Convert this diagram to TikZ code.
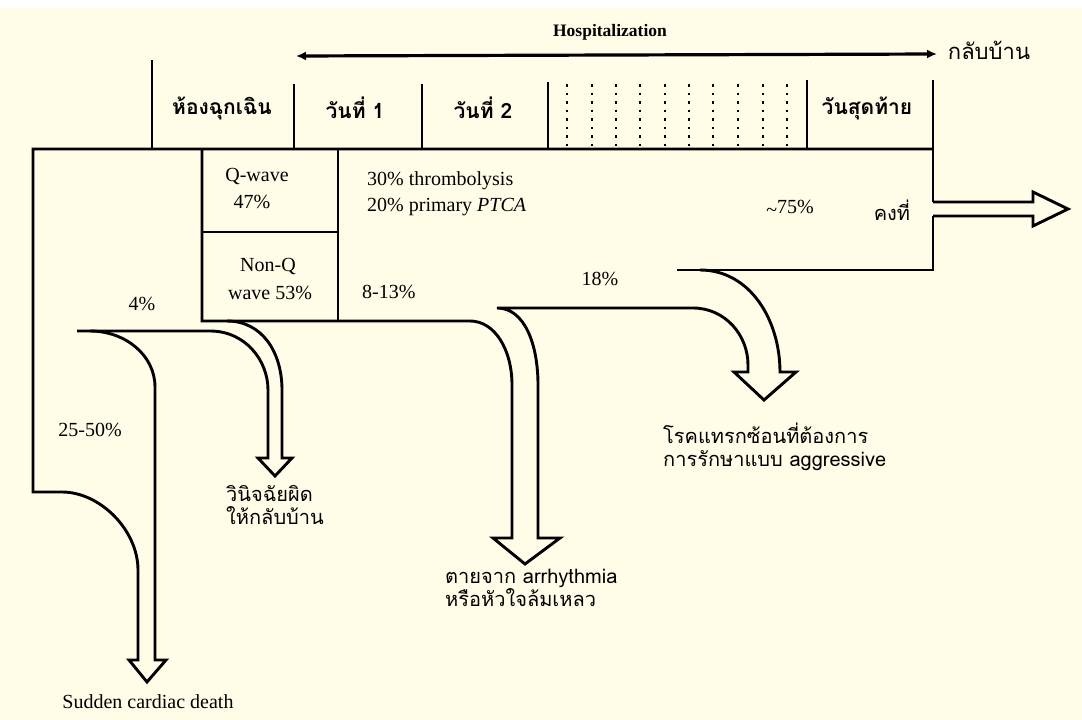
\documentclass[tikz,border=0pt]{standalone}
\usepackage{fontspec}
\setmainfont{Liberation Serif}
\newfontfamily\thaifont[Script=Thai]{Loma}
\usetikzlibrary{arrows.meta}
\definecolor{cream}{HTML}{FFFDE8}
\begin{document}
\begin{tikzpicture}[x=1pt,y=-1pt,
  wall/.style={line width=2.9pt, line join=miter, line cap=butt},
  dotline/.style={line width=2.6pt, dash pattern=on 2.5pt off 6pt},
  lbl/.style={inner sep=0pt, font=\fontsize{20}{22}\selectfont},
  th/.style={inner sep=0pt, font=\thaifont\fontsize{20}{23}\selectfont},
  thb/.style={inner sep=0pt, font=\thaifont\bfseries\fontsize{21}{23}\selectfont},
  tip/.style={{Latex[length=10pt,width=9pt]}-{Latex[length=10pt,width=9pt]}}]
\useasboundingbox (0,0) rectangle (1082,720);
\fill[white] (0,0) rectangle (1082,720);
\fill[cream] (0,8) rectangle (1082,720);

% top hospitalization arrow
\coordinate (goL) at (296,56);
\coordinate (goR) at (937,54);
\draw[line width=3.2pt, tip] (goL) -- (goR);
\node[lbl, font=\bfseries\fontsize{17.5}{19}\selectfont] (hosp) at (610,32) {Hospitalization};
\node[th, font=\thaifont\fontsize{22}{24}\selectfont] (home) at (989,50) {กลับบ้าน};

% header
\draw[wall] (152,60) -- (152,149);
\draw[wall] (294,84) -- (294,149);
\draw[wall] (422,84) -- (422,149);
\draw[wall] (548,82) -- (548,149);
\draw[wall] (807,80) -- (807,149);
\foreach \x in {567,592,616,640,665,689,713,738,763,787}
  \draw[dotline] (\x,84) -- (\x,147);
\node[thb] (er) at (222,108) {ห้องฉุกเฉิน};
\node[thb] (d1) at (355,108) {วันที่ 1};
\node[thb] (d2) at (483,108) {วันที่ 2};
\node[thb] (dl) at (867,108) {วันสุดท้าย};

% main outline incl. sudden death arrow
\draw[wall] (933,80) -- (933,202);
\draw[wall] (933,216) -- (933,270) -- (677,270);
\draw[wall] (933,149) -- (33,149) -- (33,492) -- (62,492)
  .. controls (100,492) and (138,530) .. (138,570) -- (138,660)
  -- (129,660) -- (147,682) -- (166,660) -- (155,660) -- (155,387)
  .. controls (155,355) and (125,331) .. (90,331);
% 4% arrow
\draw[wall] (77,331) -- (210,331) .. controls (245,331) and (268,360) .. (268,390)
  -- (268,458) -- (258,458) -- (275,476) -- (292,458) -- (282,458) -- (282,390)
  .. controls (282,352) and (262,321) .. (227,321);
% boxes and 8-13% arrow
\draw[wall] (202,149) -- (202,321) -- (470,321)
  .. controls (495,321) and (512,350) .. (512,385) -- (512,538)
  -- (493,538) -- (525,564) -- (560,538) -- (538,538) -- (538,385)
  .. controls (538,345) and (525,308) .. (497,308) -- (693,308)
  .. controls (725,308) and (748,335) .. (748,365) -- (748,372)
  -- (734,372) -- (764,400) -- (796,372) -- (780,372)
  .. controls (780,320) and (750,270) .. (700,270);
\draw[wall] (338,149) -- (338,321);
\draw[wall] (202,232) -- (338,232);
% exit arrow
\draw[wall] (933,202) -- (1033,202) -- (1033,192) -- (1068,209) -- (1033,226) -- (1033,216) -- (933,216);

% labels
\node[lbl] (qw) at (257,176) {Q-wave};
\node[lbl] (q47) at (252,202) {47\%};
\node[lbl] (nq) at (268,266) {Non-Q};
\node[lbl] (nq53) at (270,293) {wave 53\%};
\node[lbl, anchor=west] (thr) at (367,181) {30\% thrombolysis};
\node[lbl, anchor=west] (ptca) at (367,207) {20\% primary \textit{PTCA}};
\node[lbl, anchor=west] (p813) at (362,292) {8-13\%};
\node[lbl] (p75) at (790,208) {\raisebox{-0.3ex}{\textasciitilde}75\%};
\node[th] (stab) at (892,210) {คงที่};
\node[lbl] (p18) at (600,279) {18\%};
\node[lbl] (p4) at (142,304) {4\%};
\node[lbl] (p25) at (90,430) {25-50\%};
\node[th, anchor=north west, align=left] (mis) at (226,485) {วินิจฉัยผิด\\ให้กลับบ้าน};
\node[th, anchor=north west, align=left] (arr) at (445,569) {ตายจาก arrhythmia\\หรือหัวใจล้มเหลว};
\node[th, anchor=north west, align=left] (comp) at (663,423) {โรคแทรกซ้อนที่ต้องการ\\การรักษาแบบ aggressive};
\node[lbl] (scd) at (148,702) {Sudden cardiac death};
\end{tikzpicture}
\end{document}
